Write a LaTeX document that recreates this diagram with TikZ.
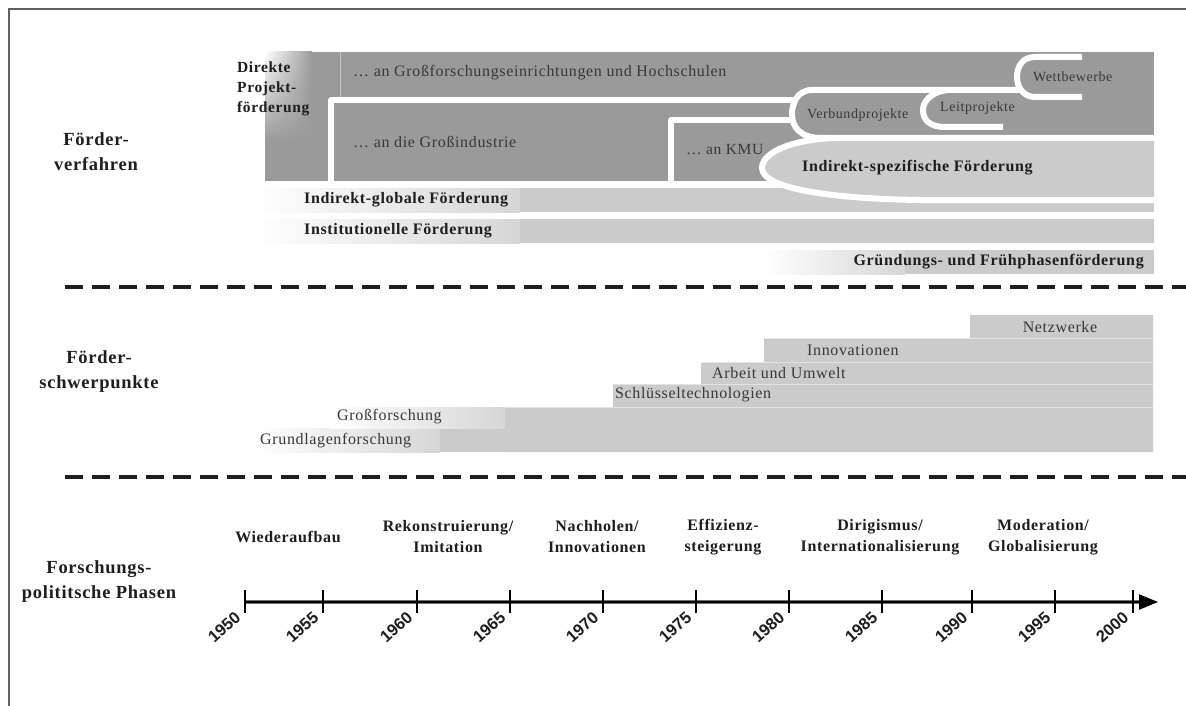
\documentclass[tikz,border=0pt]{standalone}
\usepackage{fontspec}
\setmainfont{Liberation Serif}[LetterSpace=4]
\newfontfamily\yearfont{Liberation Sans}
\usetikzlibrary{arrows.meta,shadings}

\definecolor{darkfill}{HTML}{9A9A9A}
\definecolor{lightfill}{HTML}{CBCBCB}
\definecolor{fadefill}{HTML}{D6D6D6}
\definecolor{txtdark}{HTML}{1E1E1E}
\definecolor{txtmid}{HTML}{383838}
\definecolor{framecol}{HTML}{606060}

\tikzset{
  head/.style={font=\bfseries\fontsize{18.5}{25}\selectfont, align=center, text=txtdark},
  barlabel/.style={font=\bfseries\fontsize{16}{20}\selectfont, text=txtdark, anchor=west, inner sep=0pt},
  blocklabel/.style={font=\fontsize{16}{20}\selectfont, text=txtmid, anchor=west, inner sep=0pt},
  smalllabel/.style={font=\fontsize{14}{17}\selectfont, text=txtmid, anchor=west, inner sep=0pt},
  focus/.style={font=\fontsize{16}{20}\selectfont, text=txtmid, anchor=west, inner sep=0pt},
  phase/.style={font=\bfseries\fontsize{16}{21}\selectfont, align=center, text=txtdark, inner sep=0pt},
  year/.style={font=\yearfont\bfseries\fontsize{16.5}{18}\selectfont, rotate=42, anchor=south east, inner sep=0pt, text=txtdark},
  gap/.style={draw=white, line width=6pt, line join=round},
  sep/.style={draw=txtdark, line width=4pt, dash pattern=on 18pt off 9pt},
  tick/.style={draw=black, line width=2pt},
  stepline/.style={draw=white, opacity=0.45, line width=1pt},
}

\begin{document}
\begin{tikzpicture}[x=1pt,y=-1pt]
\useasboundingbox (0,0) rectangle (1186,706);
\fill[white] (0,0) rectangle (1186,706);

% outer frame (top and left edges)
\draw[framecol, line width=2pt] (9,706) -- (9,9) -- (1186,9);

% ---------- Foerderverfahren ----------
% project funding block
\fill[darkfill] (265,52) rectangle (1154,181);
\shade[upper left=white, upper right=darkfill, lower left=darkfill, lower right=darkfill]
  (265,52) rectangle (312,140);
\draw[stepline] (340,52) -- (340,97);

% bars of indirect-global and institutional funding
\shade[left color=white, right color=fadefill] (253,188) rectangle (520,212);
\fill[lightfill] (520,188) rectangle (1154,212);
\shade[left color=white, right color=fadefill] (253,219) rectangle (520,243);
\fill[lightfill] (520,219) rectangle (1154,243);

% start-up funding bar
\shade[left color=white, right color=fadefill] (763,250) rectangle (905,274);
\fill[lightfill] (905,250) rectangle (1154,274);

% indirect-specific funding (rounded tongue)
\fill[lightfill] (762,168) .. controls (762,150) and (800,138) .. (840,138)
  -- (1154,138) -- (1154,200) -- (920,200)
  .. controls (840,199) and (762,190) .. (762,168) -- cycle;

% white separating gaps
\path[gap] (331,186) -- (331,100) -- (797,100);
\path[gap] (671,186) -- (671,120) -- (793,120);
\path[gap] (1019,90) -- (812,90) .. controls (797,90) and (792,104) .. (792,114)
  .. controls (792,127) and (800,138) .. (822,138) -- (1157,138);
\path[gap] (1157,200) -- (920,200) .. controls (840,199) and (762,190) .. (762,168)
  .. controls (762,150) and (800,138) .. (840,138);
\path[gap] (948,90) .. controls (930,92) and (923,102) .. (923,110)
  .. controls (923,120) and (930,127) .. (945,127) -- (1003,127);
\path[gap] (1082,57) -- (1035,57) .. controls (1022,57) and (1017,67) .. (1017,77)
  .. controls (1017,88) and (1024,97) .. (1035,97) -- (1082,97);

\node[head] (hverf) at (96,152) {Förder-\\verfahren};
\node[font=\bfseries\fontsize{15.5}{20}\selectfont, text=txtdark, align=left, anchor=west, inner sep=0pt]
  (direkt) at (237,89) {Direkte\\Projekt-\\förderung};
\node[blocklabel] (gfe) at (353,73) {… an Großforschungseinrichtungen und Hochschulen};
\node[blocklabel] (gind) at (353,142) {… an die Großindustrie};
\node[blocklabel, font=\fontsize{15.5}{20}\selectfont] (kmu) at (686,150) {… an KMU};
\node[smalllabel] (verbund) at (807,115) {Verbundprojekte};
\node[smalllabel] (leit) at (940,108) {Leitprojekte};
\node[smalllabel] (wett) at (1033,77) {Wettbewerbe};
\node[barlabel] (indspez) at (802,168) {Indirekt-spezifische Förderung};
\node[barlabel] (indglob) at (304,200) {Indirekt-globale Förderung};
\node[barlabel] (inst) at (304,231) {Institutionelle Förderung};
\node[barlabel, anchor=east] (gruend) at (1144,262) {Gründungs- und Frühphasenförderung};

\draw[sep] (65,287) -- (1186,287);

% ---------- Foerderschwerpunkte ----------
\shade[left color=white, right color=fadefill] (255,428) rectangle (440,452);
\fill[lightfill] (440,428) rectangle (506,452);
\shade[left color=white, right color=fadefill] (330,407) rectangle (505,428);
\fill[lightfill] (505,407) -- (613,407) -- (613,384) -- (701,384) -- (701,362)
  -- (764,362) -- (764,338) -- (970,338) -- (970,315) -- (1153,315)
  -- (1153,452) -- (505,452) -- cycle;
\draw[stepline] (505,407) -- (1153,407);
\draw[stepline] (613,384) -- (1153,384);
\draw[stepline] (701,362) -- (1153,362);
\draw[stepline] (764,338) -- (1153,338);

\node[head] (hschw) at (99,372) {Förder-\\schwerpunkte};
\node[focus, anchor=center] (netz) at (1060,327) {Netzwerke};
\node[focus] (innov) at (807,350) {Innovationen};
\node[focus] (arbeit) at (712,373) {Arbeit und Umwelt};
\node[focus] (schluessel) at (615,395) {Schlüsseltechnologien};
\node[focus] (gross) at (337,417) {Großforschung};
\node[focus] (grundl) at (260,441) {Grundlagenforschung};

\draw[sep] (65,477) -- (1186,477);

% ---------- Forschungspolitische Phasen ----------
\node[head] (hphase) at (99,582) {Forschungs-\\polititsche Phasen};
\node[phase] (p1) at (288,537) {Wiederaufbau};
\node[phase] (p2) at (448,537) {Rekonstruierung/\\Imitation};
\node[phase] (p3) at (597,537) {Nachholen/\\Innovationen};
\node[phase] (p4) at (723,537) {Effizienz-\\steigerung};
\node[phase] (p5) at (880,537) {Dirigismus/\\Internationalisierung};
\node[phase] (p6) at (1043,537) {Moderation/\\Globalisierung};

% time axis
\coordinate (tstart) at (245,602);
\coordinate (tend) at (1158,602);
\draw[draw=black!55, line width=4.5pt] (tstart) -- (1140,602);
\draw[black, line width=2.2pt, -{Triangle[length=19pt,width=15pt]}] (tstart) -- (tend);
\foreach \x/\yr in {245/1950,323/1955,417/1960,510/1965,603/1970,696/1975,
                    789/1980,882/1985,972/1990,1055/1995,1133/2000} {
  \draw[tick] (\x,590) -- (\x,613);
  \node[year] (y\yr) at (\x-3,619) {\yr};
}
\end{tikzpicture}
\end{document}
